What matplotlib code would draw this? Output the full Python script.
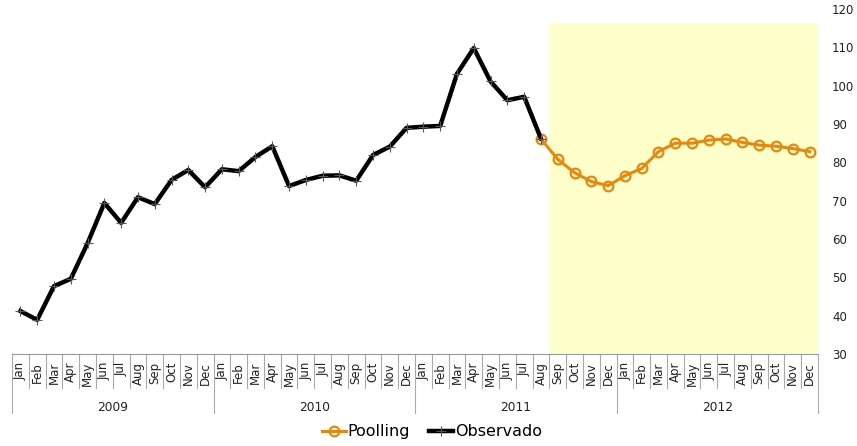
import numpy as np
import matplotlib
matplotlib.use('Agg')
import matplotlib.pyplot as plt
from matplotlib.transforms import blended_transform_factory

# ── 데이터 ──
months = ['Jan', 'Feb', 'Mar', 'Apr', 'May', 'Jun',
          'Jul', 'Aug', 'Sep', 'Oct', 'Nov', 'Dec']
years = ['2009', '2010', '2011', '2012']

observado = [41.2, 38.9, 47.7, 49.6, 58.9, 69.4, 64.2, 70.9, 69.1, 75.4, 78.0, 73.5,
             78.2, 77.7, 81.4, 84.2, 73.8, 75.4, 76.5, 76.6, 75.2, 81.9, 84.1, 89.0,
             89.3, 89.5, 103.1, 109.8, 101.1, 96.2, 97.1, 86.2]
poolling = [86.1, 80.8, 77.3, 75.0, 73.9, 76.5, 78.4, 82.8, 85.0, 85.0, 85.8, 86.1,
            85.2, 84.5, 84.2, 83.6, 82.8]
poolling_start = 31          # Aug 2011
shade_top = 116.3            # 예측 구간 배경 높이

n = len(months) * len(years)
x_all = np.arange(n)
x_obs = x_all[:len(observado)]
x_pool = x_all[poolling_start:poolling_start + len(poolling)]

orange = '#E8870E'

fig = plt.figure(figsize=(8.57, 4.46), dpi=100)
ax = fig.add_axes([0.014, 0.2063, 0.9405, 0.7735])

ax.set_xlim(-0.5, n - 0.5)
ax.set_ylim(30, 120)

# 예측 구간 배경
ax.fill_between([poolling_start + 0.5, n - 0.5], 30, shade_top,
                color='#FFFFCC', lw=0, zorder=0)

ax.plot(x_pool, poolling, color=orange, lw=2.2, marker='o', ms=7,
        mfc='none', mec=orange, mew=1.6, label='Poolling', zorder=3)
ax.plot(x_obs, observado, color='black', lw=3.2, marker='+', ms=7,
        mec='#555555', mew=0.8, label='Observado', zorder=4)

# 축 모양
for s in ['left', 'top', 'right']:
    ax.spines[s].set_visible(False)
ax.spines['bottom'].set_color('#999999')
ax.yaxis.tick_right()
ax.set_yticks(np.arange(30, 121, 10))
ax.tick_params(axis='y', length=0, pad=10, labelsize=8.5, labelcolor='#222222')
ax.set_xticks([])

# 다단 카테고리 축
trans = blended_transform_factory(ax.transData, ax.transAxes)
for i in range(n):
    ax.text(i, -0.023, months[i % 12], transform=trans, rotation=90,
            ha='center', va='top', fontsize=8.5, color='#222222')
for b in np.arange(-0.5, n, 1.0):
    is_year = int(b + 0.5) % 12 == 0
    ax.plot([b, b], [0, -0.171 if is_year else -0.099], transform=trans,
            color='#AAAAAA', lw=0.8, clip_on=False)
for k, yr in enumerate(years):
    ax.text(k * 12 + 5.5, -0.154, yr, transform=trans, ha='center',
            va='center', fontsize=8.8, color='#222222')

leg = ax.legend(loc='center', bbox_to_anchor=(0.521, -0.226), ncol=2,
                frameon=False, fontsize=11.5, handlelength=1.5,
                handletextpad=0.1, columnspacing=1.2)

fig.savefig('out.png', dpi=100)
